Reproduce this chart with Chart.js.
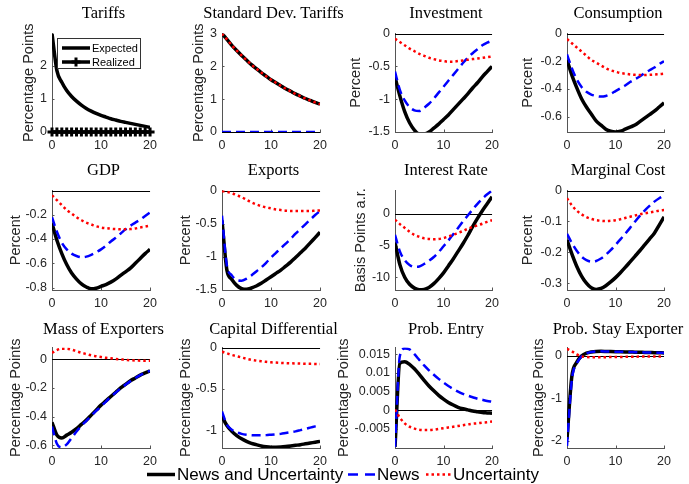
<!DOCTYPE html>
<html>
<head>
<meta charset="utf-8">
<script src="https://cdn.jsdelivr.net/npm/chart.js@4.4.0/dist/chart.umd.min.js"></script>
<style>
  body { margin: 0; background: #fff; }
  #wrap { position: relative; width: 689px; height: 484px; overflow: hidden; background: #fff; }
  canvas { position: absolute; }
  .ttl { position: absolute; font-family: "Liberation Serif", "Times New Roman", serif; font-size: 16.5px; color: #000;
         white-space: nowrap; transform: translate(-50%, -50%); }
  .lg { position: absolute; font-family: "Liberation Sans", Arial, sans-serif; white-space: nowrap; transform: translateY(-50%); color: #000; }
  #tlegend { position: absolute; left: 57px; top: 38px; width: 84px; height: 31px; border: 1px solid #333; background: #fff; box-sizing: border-box; }
  svg { position: absolute; left: 0; top: 0; }
</style>
</head>
<body>
<div id="wrap"></div>
<script>
// horizon (quarters)
const steps = [0,1,2,3,4,5,6,7,8,9,10,11,12,13,14,15,16,17,18,19,20];
const xTicks = [0, 10, 20];

// Tariffs
const tariffExpected = [2.97,1.85,1.5,1.25,1.07,0.93,0.81,0.71,0.63,0.56,0.5,0.45,0.4,0.36,0.32,0.29,0.26,0.23,0.2,0.17,0.14];
const tariffRealized = [0,0,0,0,0,0,0,0,0,0,0,0,0,0,0,0,0,0,0,0,0];
const tariffTicks = [0, 1, 2];

// Standard dev. tariffs
const sdBoth = [3,2.82,2.64,2.48,2.33,2.19,2.05,1.93,1.81,1.7,1.59,1.5,1.41,1.32,1.24,1.16,1.09,1.02,0.96,0.9,0.85];
const sdNews = [0,0,0,0,0,0,0,0,0,0,0,0,0,0,0,0,0,0,0,0,0];
const sdUnc  = [3,2.82,2.64,2.48,2.33,2.19,2.05,1.93,1.81,1.7,1.59,1.5,1.41,1.32,1.24,1.16,1.09,1.02,0.96,0.9,0.85];
const sdTicks = [0, 1, 2, 3];

// Investment
const invBoth = [-0.66,-0.95,-1.19,-1.36,-1.47,-1.53,-1.53,-1.5,-1.44,-1.38,-1.31,-1.24,-1.16,-1.08,-1.0,-0.92,-0.83,-0.75,-0.66,-0.58,-0.5];
const invNews = [-0.58,-0.86,-1.02,-1.12,-1.17,-1.18,-1.13,-1.07,-0.99,-0.9,-0.81,-0.72,-0.63,-0.54,-0.45,-0.37,-0.3,-0.24,-0.18,-0.14,-0.11];
const invUnc  = [-0.08,-0.13,-0.18,-0.23,-0.27,-0.31,-0.34,-0.37,-0.39,-0.41,-0.42,-0.43,-0.43,-0.42,-0.41,-0.4,-0.39,-0.38,-0.37,-0.36,-0.35];
const invTicks = [-1.5, -1, -0.5, 0];

// Consumption
const consBoth = [-0.19,-0.3,-0.39,-0.47,-0.53,-0.58,-0.63,-0.66,-0.69,-0.705,-0.71,-0.705,-0.69,-0.675,-0.66,-0.635,-0.61,-0.585,-0.56,-0.53,-0.5];
const consNews = [-0.15,-0.25,-0.33,-0.385,-0.42,-0.44,-0.45,-0.455,-0.45,-0.435,-0.415,-0.395,-0.375,-0.35,-0.33,-0.31,-0.285,-0.265,-0.245,-0.22,-0.2];
const consUnc  = [-0.04,-0.07,-0.1,-0.13,-0.16,-0.19,-0.21,-0.23,-0.25,-0.265,-0.275,-0.285,-0.29,-0.295,-0.298,-0.3,-0.3,-0.298,-0.296,-0.293,-0.29];
const consTicks = [-0.6, -0.4, -0.2, 0];

// GDP
const gdpBoth = [-0.27,-0.41,-0.52,-0.61,-0.68,-0.73,-0.77,-0.795,-0.81,-0.805,-0.79,-0.775,-0.755,-0.73,-0.7,-0.67,-0.64,-0.6,-0.56,-0.52,-0.485];
const gdpNews = [-0.22,-0.34,-0.43,-0.485,-0.52,-0.54,-0.55,-0.545,-0.53,-0.51,-0.485,-0.455,-0.42,-0.39,-0.355,-0.32,-0.29,-0.265,-0.24,-0.21,-0.18];
const gdpUnc  = [-0.04,-0.08,-0.12,-0.16,-0.19,-0.22,-0.245,-0.265,-0.28,-0.295,-0.305,-0.31,-0.315,-0.318,-0.32,-0.32,-0.318,-0.313,-0.305,-0.298,-0.29];
const gdpTicks = [-0.8, -0.6, -0.4, -0.2];

// Exports
const expBoth = [-0.45,-1.2,-1.34,-1.43,-1.48,-1.49,-1.47,-1.44,-1.4,-1.35,-1.3,-1.25,-1.2,-1.14,-1.08,-1.01,-0.94,-0.87,-0.79,-0.71,-0.63];
const expNews = [-0.38,-1.13,-1.28,-1.35,-1.36,-1.33,-1.28,-1.22,-1.16,-1.09,-1.01,-0.94,-0.87,-0.8,-0.73,-0.65,-0.58,-0.51,-0.44,-0.37,-0.31];
const expUnc  = [-0.01,-0.02,-0.04,-0.07,-0.1,-0.14,-0.18,-0.21,-0.235,-0.255,-0.27,-0.285,-0.295,-0.305,-0.31,-0.31,-0.31,-0.31,-0.31,-0.305,-0.3];
const expTicks = [-1.5, -1, -0.5, 0];

// Interest rate
const rateBoth = [-4.5,-8.0,-10.0,-11.1,-11.7,-11.95,-11.9,-11.6,-11.0,-10.2,-9.3,-8.2,-7.1,-5.9,-4.7,-3.4,-2.0,-0.7,0.5,1.6,2.7];
const rateNews = [-3.3,-5.9,-7.3,-8.05,-8.35,-8.3,-7.9,-7.4,-6.8,-6.0,-5.1,-4.2,-3.2,-2.2,-1.2,-0.25,0.7,1.6,2.4,3.1,3.7];
const rateUnc  = [-0.9,-1.6,-2.2,-2.8,-3.3,-3.6,-3.85,-3.95,-4.0,-3.95,-3.8,-3.55,-3.3,-3.0,-2.7,-2.35,-2.05,-1.8,-1.55,-1.25,-1.0];
const rateTicks = [-10, -5, 0];

// Marginal cost
const mcBoth = [-0.16,-0.205,-0.245,-0.277,-0.3,-0.315,-0.32,-0.317,-0.308,-0.296,-0.282,-0.266,-0.249,-0.231,-0.213,-0.195,-0.176,-0.157,-0.138,-0.112,-0.085];
const mcNews = [-0.14,-0.17,-0.195,-0.214,-0.225,-0.23,-0.228,-0.22,-0.208,-0.193,-0.176,-0.158,-0.14,-0.121,-0.101,-0.082,-0.065,-0.05,-0.036,-0.025,-0.017];
const mcUnc  = [-0.025,-0.048,-0.065,-0.077,-0.086,-0.092,-0.096,-0.098,-0.099,-0.098,-0.096,-0.093,-0.089,-0.085,-0.081,-0.077,-0.074,-0.071,-0.068,-0.065,-0.063];
const mcTicks = [-0.3, -0.2, -0.1, 0];

// Mass of exporters
const massBoth = [-0.44,-0.53,-0.55,-0.53,-0.51,-0.485,-0.455,-0.425,-0.39,-0.355,-0.32,-0.29,-0.26,-0.23,-0.2,-0.175,-0.15,-0.13,-0.11,-0.095,-0.08];
const massNews = [-0.47,-0.59,-0.615,-0.595,-0.55,-0.505,-0.465,-0.43,-0.395,-0.36,-0.33,-0.295,-0.262,-0.232,-0.203,-0.177,-0.152,-0.13,-0.11,-0.093,-0.08];
const massUnc  = [0.045,0.065,0.075,0.075,0.068,0.057,0.046,0.037,0.028,0.022,0.016,0.011,0.007,0.003,0,-0.003,-0.006,-0.008,-0.009,-0.01,-0.01];
const massTicks = [-0.6, -0.4, -0.2, 0];

// Capital differential
const capBoth = [-0.83,-0.94,-1.01,-1.06,-1.1,-1.13,-1.155,-1.17,-1.185,-1.195,-1.2,-1.2,-1.198,-1.193,-1.186,-1.178,-1.17,-1.16,-1.15,-1.14,-1.13];
const capNews = [-0.77,-0.93,-0.99,-1.02,-1.04,-1.05,-1.055,-1.057,-1.057,-1.055,-1.05,-1.045,-1.04,-1.03,-1.02,-1.01,-0.995,-0.98,-0.965,-0.95,-0.935];
const capUnc  = [-0.05,-0.07,-0.09,-0.105,-0.12,-0.135,-0.148,-0.158,-0.166,-0.172,-0.178,-0.182,-0.185,-0.188,-0.19,-0.192,-0.194,-0.196,-0.197,-0.198,-0.2];
const capTicks = [-1, -0.5, 0];

// Prob. entry
const entryBoth = [-0.0098,0.0126,0.013,0.0123,0.0111,0.0096,0.008,0.0065,0.0052,0.004,0.003,0.0021,0.0014,0.0008,0.0004,0.0001,-0.0002,-0.0004,-0.0006,-0.0007,-0.0008];
const entryNews = [-0.0098,0.0145,0.0165,0.0163,0.015,0.0135,0.012,0.0107,0.0095,0.0084,0.0074,0.0065,0.0057,0.005,0.0044,0.0039,0.0035,0.0031,0.0028,0.0025,0.0023];
const entryUnc  = [0.0002,-0.002,-0.0035,-0.0044,-0.0049,-0.0052,-0.0053,-0.0053,-0.0052,-0.005,-0.0048,-0.0046,-0.0044,-0.0042,-0.004,-0.0038,-0.0036,-0.0035,-0.0033,-0.0032,-0.003];
const entryTicks = [-0.005, 0, 0.005, 0.01, 0.015];

// Prob. stay exporter
const stayBoth = [-1.96,-0.48,-0.15,0.0,0.065,0.095,0.108,0.11,0.108,0.105,0.102,0.099,0.096,0.093,0.09,0.087,0.084,0.081,0.078,0.075,0.072];
const stayNews = [-2.12,-0.56,-0.18,-0.01,0.06,0.093,0.107,0.11,0.108,0.105,0.102,0.099,0.096,0.093,0.09,0.087,0.084,0.081,0.078,0.075,0.072];
const stayUnc  = [0.17,0.11,0.04,-0.01,-0.025,-0.03,-0.03,-0.03,-0.028,-0.026,-0.024,-0.022,-0.02,-0.018,-0.016,-0.015,-0.014,-0.013,-0.012,-0.011,-0.01];
const stayTicks = [-2, -1, 0];

const seriesNames = ['News and Uncertainty', 'News', 'Uncertainty'];

// plot area edges in the page
const colX = [[52, 155], [222, 325], [395, 497], [567, 669]];
const rowY = [[27, 132], [184, 290], [341, 448]];
const titleY = [13, 170, 328.5];

const styles = {
  both: { borderColor: '#000000', borderWidth: 3.5, order: 3 },
  news: { borderColor: '#0000ff', borderWidth: 2.5, borderDash: [9, 5], order: 2 },
  unc:  { borderColor: '#ff0000', borderWidth: 2.5, borderDash: [2.5, 3], order: 1 }
};

function pts(arr) { return arr.map((v, i) => ({ x: steps[i], y: v })); }
function three(a, b, c) {
  return [
    Object.assign({ label: seriesNames[0], data: pts(a) }, styles.both),
    Object.assign({ label: seriesNames[1], data: pts(b) }, styles.news),
    Object.assign({ label: seriesNames[2], data: pts(c) }, styles.unc)
  ];
}

const panels = [
  { title: 'Tariffs', ylab: 'Percentage Points', c: 0, r: 0, min: 0, max: 2.97, ticks: tariffTicks, off: 23.5,
    sets: [
      { label: 'Expected', data: pts(tariffExpected), borderColor: '#000', borderWidth: 3.5, order: 2 },
      { label: 'Realized', data: pts(tariffRealized), borderColor: '#000', borderWidth: 3.5, order: 1, clip: false,
        pointStyle: 'cross', pointRadius: 4.5, pointBorderWidth: 3, pointBorderColor: '#000' }
    ] },
  { title: 'Standard Dev. Tariffs', ylab: 'Percentage Points', c: 1, r: 0, min: 0, max: 3, ticks: sdTicks, off: 23, sets: three(sdBoth, sdNews, sdUnc) },
  { title: 'Investment', ylab: 'Percent', c: 2, r: 0, min: -1.5, max: 0, ticks: invTicks, off: 39, sets: three(invBoth, invNews, invUnc) },
  { title: 'Consumption', ylab: 'Percent', c: 3, r: 0, min: -0.71, max: 0, ticks: consTicks, off: 39, sets: three(consBoth, consNews, consUnc) },
  { title: 'GDP', ylab: 'Percent', c: 0, r: 1, min: -0.82, max: 0, ticks: gdpTicks, off: 36.5, sets: three(gdpBoth, gdpNews, gdpUnc) },
  { title: 'Exports', ylab: 'Percent', c: 1, r: 1, min: -1.5, max: 0, ticks: expTicks, off: 36, sets: three(expBoth, expNews, expUnc) },
  { title: 'Interest Rate', ylab: 'Basis Points a.r.', c: 2, r: 1, min: -12, max: 3.7, ticks: rateTicks, off: 34.5, sets: three(rateBoth, rateNews, rateUnc) },
  { title: 'Marginal Cost', ylab: 'Percent', c: 3, r: 1, min: -0.322, max: 0, ticks: mcTicks, off: 39, sets: three(mcBoth, mcNews, mcUnc) },
  { title: 'Mass of Exporters', ylab: 'Percentage Points', c: 0, r: 2, min: -0.62, max: 0.083, ticks: massTicks, off: 36.5, sets: three(massBoth, massNews, massUnc) },
  { title: 'Capital Differential', ylab: 'Percentage Points', c: 1, r: 2, min: -1.21, max: 0, ticks: capTicks, off: 36, sets: three(capBoth, capNews, capUnc) },
  { title: 'Prob. Entry', ylab: 'Percentage Points', c: 2, r: 2, min: -0.0101, max: 0.0168, ticks: entryTicks, off: 51, sets: three(entryBoth, entryNews, entryUnc) },
  { title: 'Prob. Stay Exporter', ylab: 'Percentage Points', c: 3, r: 2, min: -2.17, max: 0.2, ticks: stayTicks, off: 28, sets: three(stayBoth, stayNews, stayUnc) }
];

// thin black line at zero, plus small inward tick marks like matlab
const zeroLine = {
  id: 'zeroLine',
  beforeDatasetsDraw(chart) {
    const y = chart.scales.y, x = chart.scales.x, a = chart.chartArea;
    const ctx = chart.ctx;
    ctx.save();
    ctx.strokeStyle = '#555';
    ctx.lineWidth = 1;
    ctx.beginPath();
    y.ticks.forEach(t => {
      const py = Math.round(y.getPixelForValue(t.value)) + 0.5;
      ctx.moveTo(a.left, py); ctx.lineTo(a.left + 2.5, py);
    });
    x.ticks.forEach(t => {
      const px = Math.round(x.getPixelForValue(t.value)) + 0.5;
      ctx.moveTo(px, a.bottom); ctx.lineTo(px, a.bottom - 2.5);
    });
    ctx.stroke();
    if (y.min <= 0 && y.max >= 0) {
      const py = Math.round(y.getPixelForValue(0)) + 0.5;
      ctx.strokeStyle = '#000';
      ctx.beginPath();
      ctx.moveTo(a.left, py);
      ctx.lineTo(a.right, py);
      ctx.stroke();
    }
    ctx.restore();
  }
};

const wrap = document.getElementById('wrap');
const YW = 60, PADT = 6, PADR = 8, XH = 22;
const tickFont = { family: '"Liberation Sans", Arial, sans-serif', size: 12.5 };
const labFont = { family: '"Liberation Sans", Arial, sans-serif', size: 14.5 };

panels.forEach(p => {
  const [x0, x1] = colX[p.c], [y0, y1] = rowY[p.r];
  const w = YW + (x1 - x0) + PADR, h = PADT + (y1 - y0) + XH;
  const cv = document.createElement('canvas');
  cv.width = w; cv.height = h;
  cv.style.left = (x0 - YW) + 'px';
  cv.style.top = (y0 - PADT) + 'px';
  cv.style.width = w + 'px';
  cv.style.height = h + 'px';
  wrap.appendChild(cv);

  const t = document.createElement('div');
  t.className = 'ttl';
  t.textContent = p.title;
  t.style.left = ((x0 + x1) / 2) + 'px';
  t.style.top = titleY[p.r] + 'px';
  wrap.appendChild(t);

  const tickVals = p.ticks;
  new Chart(cv, {
    type: 'line',
    data: { datasets: p.sets.map(s => Object.assign({ pointRadius: 0, cubicInterpolationMode: 'monotone', fill: false }, s)) },
    options: {
      responsive: false,
      animation: false,
      layout: { padding: { top: PADT, right: PADR, left: 0, bottom: 0 } },
      plugins: { legend: { display: false }, tooltip: { enabled: false } },
      scales: {
        x: {
          type: 'linear', min: 0, max: 20,
          afterBuildTicks: s => { s.ticks = xTicks.map(v => ({ value: v })); },
          afterFit: s => { s.height = XH; },
          grid: { display: false, drawTicks: false },
          border: { display: true, color: '#555', width: 1 },
          ticks: { padding: 6, color: '#262626', font: tickFont, maxRotation: 0, callback: v => String(v) }
        },
        y: {
          min: p.min, max: p.max,
          afterBuildTicks: s => { s.ticks = tickVals.map(v => ({ value: v })); },
          afterFit: s => { s.width = YW; },
          grid: { display: false, drawTicks: false },
          border: { display: true, color: '#555', width: 1 },
          ticks: { padding: 5, color: '#262626', font: tickFont, callback: v => String(v) },
          title: { display: true, text: p.ylab, color: '#262626', font: labFont,
                   padding: { top: Math.max(0, YW - p.off - 8.7), bottom: 0 } }
        }
      }
    },
    plugins: [zeroLine]
  });
});

// legends (line samples drawn in svg, text as html)
const NS = 'http://www.w3.org/2000/svg';
const svg = document.createElementNS(NS, 'svg');
svg.setAttribute('width', 689); svg.setAttribute('height', 484);
function seg(x1, y1, x2, y2, color, width, dash) {
  const l = document.createElementNS(NS, 'line');
  l.setAttribute('x1', x1); l.setAttribute('x2', x2);
  l.setAttribute('y1', y1); l.setAttribute('y2', y2);
  l.setAttribute('stroke', color); l.setAttribute('stroke-width', width);
  if (dash) l.setAttribute('stroke-dasharray', dash);
  svg.appendChild(l);
}
function label(text, x, y, size) {
  const d = document.createElement('div');
  d.className = 'lg';
  d.textContent = text;
  d.style.left = x + 'px'; d.style.top = y + 'px'; d.style.fontSize = size + 'px';
  wrap.appendChild(d);
}

const tl = document.createElement('div');
tl.id = 'tlegend';
wrap.appendChild(tl);
wrap.appendChild(svg);

// tariffs legend
seg(62, 48, 90, 48, '#000', 3.5);
seg(62, 62, 90, 62, '#000', 3.5);
seg(71.5, 62, 80.5, 62, '#000', 3);
seg(76, 57.5, 76, 66.5, '#000', 3);
label('Expected', 92, 48, 11);
label('Realized', 92, 62, 11);

// bottom legend
seg(147, 474.5, 175, 474.5, '#000', 3.5);
label(seriesNames[0], 177, 475, 17);
seg(348, 474.5, 376, 474.5, '#0000ff', 2.5, '10 7');
label(seriesNames[1], 377, 475, 17);
seg(426, 474.5, 452, 474.5, '#ff0000', 2.5, '2.5 3');
label(seriesNames[2], 453, 475, 17);
</script>
</body>
</html>
